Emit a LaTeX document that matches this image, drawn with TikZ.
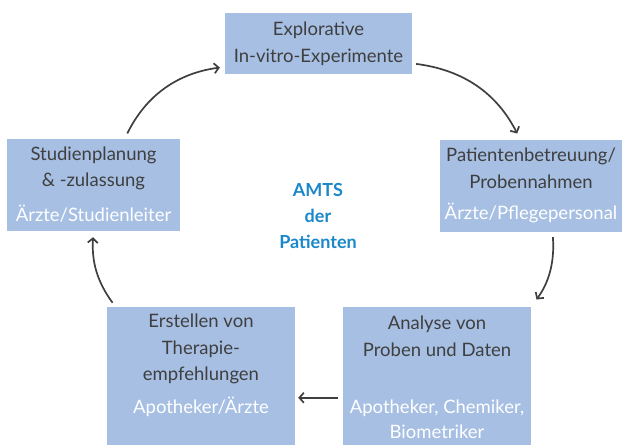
\documentclass[tikz,border=0pt]{standalone}
\usepackage{fontspec}
\setmainfont{Lato}
\usetikzlibrary{arrows.meta}
\definecolor{kasten}{HTML}{A6BFE3}
\definecolor{schrift}{HTML}{3F3F3F}
\definecolor{amts}{HTML}{1A87C9}

\begin{document}
\begin{tikzpicture}[x=1pt,y=1pt]
\useasboundingbox (0,0) rectangle (623,445);

      % Kaesten
      \begin{scope}[every node/.style={rectangle, fill=kasten, inner sep=0pt}]
        \node[minimum width=187pt, minimum height=61pt]  (1) at (318.5,401.5) {};
        \node[minimum width=182pt, minimum height=92pt]  (2) at (531,259)     {};
        \node[minimum width=188pt, minimum height=138pt] (3) at (437,69)      {};
        \node[minimum width=188pt, minimum height=138pt] (4) at (201,69)      {};
        \node[minimum width=173pt, minimum height=92pt]  (5) at (93.5,260)    {};
      \end{scope}

      % Titel
      \begin{scope}[every node/.style={align=center, text=schrift, inner sep=0pt,
                    font=\fontsize{18.5}{26.5}\selectfont}]
        \node (1t) at (318.5,401) {Explorative\\In-vitro-Experimente};
        \node (2t) at (531,276.5)   {Patientenbetreuung/\\Probennahmen};
        \node (3t) at (437,108.5)   {Analyse von\\Proben und Daten};
        \node (4t) at (201,96)      {Erstellen von\\Therapie-\\empfehlungen};
        \node (5t) at (93.5,276.5)  {Studienplanung\\\& -zulassung};
      \end{scope}

      % Rollen
      \begin{scope}[every node/.style={align=center, text=white, inner sep=0pt,
                    font=\fontsize{18.5}{25}\selectfont}]
        \node (2r) at (531,232)   {Ärzte/Pflegepersonal};
        \node (3r) at (437,25.5)  {Apotheker, Chemiker,\\Biometriker};
        \node (4r) at (201,38)    {Apotheker/Ärzte};
        \node (5r) at (93.5,231)  {Ärzte/Studienleiter};
      \end{scope}

      \node[align=center, text=amts, inner sep=0pt,
            font=\fontsize{18}{26}\selectfont\bfseries] (m) at (318,229) {AMTS\\der\\Patienten};

      % Pfeile
      \begin{scope}[every edge/.style={draw=schrift, line width=1.7pt,
                    -{Straight Barb[length=4.5pt,width=10pt]}}]
        \path (1.-12)  edge[bend left=28, shorten <=4pt, shorten >=7pt] (2.103);
        \path (2.-65)  edge[bend left=20, shorten <=5pt, shorten >=9pt] (3.north east);
        \path (3.193)  edge[shorten <=5pt, shorten >=3pt] (4.-13);
        \path (4.141)  edge[bend left=20, shorten <=5pt, shorten >=6pt] (5.south);
        \path (5.56)   edge[bend left=28, shorten <=6pt, shorten >=5pt] (1.194);
      \end{scope}

    \end{tikzpicture}
\end{document}
